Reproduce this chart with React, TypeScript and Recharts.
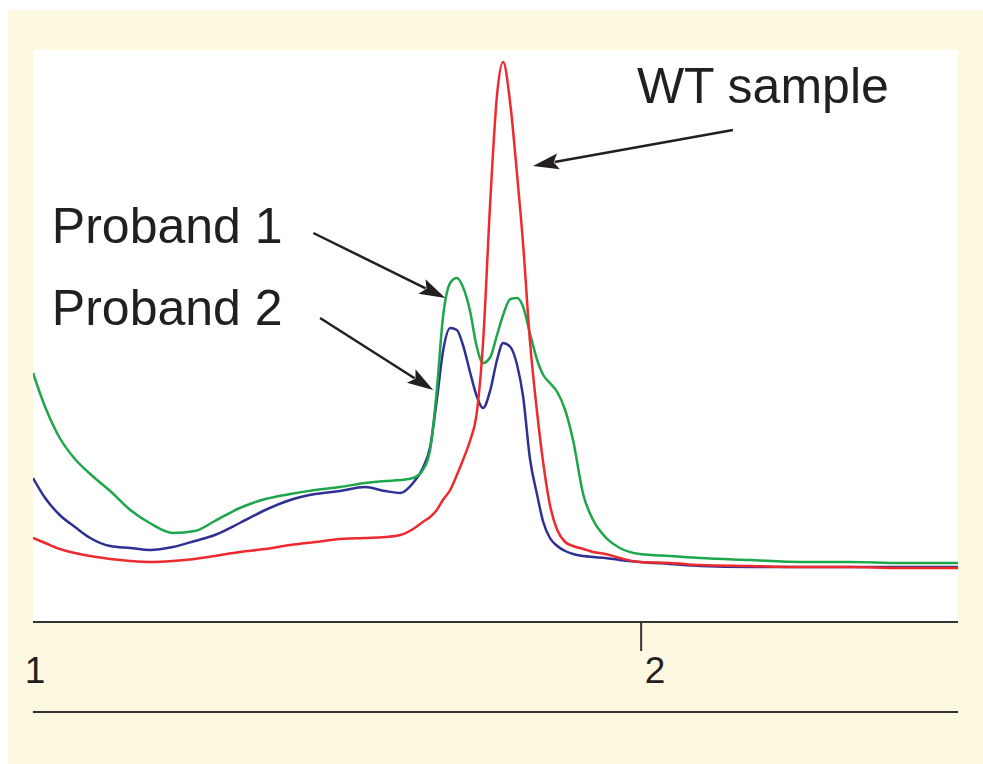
import React from 'react';
import { ComposedChart, Line, XAxis, YAxis, CartesianGrid, ReferenceLine, ReferenceDot } from 'recharts';

// Temperature-like axis position (arbitrary units, 1 .. 2.52)
const xValues = [
  1.0, 1.02, 1.044, 1.069, 1.094, 1.127, 1.16, 1.192, 1.23, 1.266,
  1.299, 1.34, 1.382, 1.423, 1.464, 1.505, 1.546, 1.579, 1.604, 1.625,
  1.641, 1.653, 1.664, 1.674, 1.686, 1.697, 1.707, 1.719, 1.729, 1.74,
  1.752, 1.763, 1.773, 1.785, 1.796, 1.806, 1.817, 1.829, 1.839, 1.85,
  1.862, 1.875, 1.888, 1.905, 1.921, 1.941, 1.965, 1.998, 2.048, 2.097,
  2.179, 2.262, 2.344, 2.426, 2.521,
];

// Signal intensity (arbitrary units)
const proband1 = [
  249, 215, 184, 163, 148, 131, 112, 99, 89, 91,
  101, 114, 123, 128, 132, 135, 139, 141, 142, 144,
  152, 172, 232, 304, 339, 344, 335, 310, 277, 259,
  265, 287, 307, 323, 324, 315, 289, 262, 247, 239,
  230, 212, 182, 127, 102, 85, 74, 68, 66, 64,
  62, 60, 60, 59, 59,
];

const proband2 = [
  144, 124, 107, 95, 84, 76, 74, 72, 75, 81,
  87, 99, 112, 122, 128, 131, 135, 131, 129, 139,
  154, 175, 222, 270, 294, 292, 277, 249, 227, 214,
  232, 262, 279, 275, 257, 225, 164, 127, 100, 84,
  76, 71, 68, 66, 65, 64, 62, 60, 58, 56,
  55, 55, 55, 55, 55,
];

const wtSample = [
  84, 79, 73, 69, 66, 63, 61, 60, 61, 63,
  66, 70, 73, 77, 80, 83, 84, 85, 87, 93,
  100, 105, 112, 122, 132, 147, 162, 182, 206, 279,
  422, 527, 560, 517, 447, 377, 282, 209, 159, 117,
  92, 80, 76, 73, 70, 68, 64, 60, 59, 57,
  56, 55, 55, 54, 54,
];

const xTicks = [1, 2];

const data = xValues.map((x, i) => ({
  x,
  p1: proband1[i],
  p2: proband2[i],
  wt: wtSample[i],
}));

const FONT = '"Liberation Sans", Arial, Helvetica, sans-serif';
const INK = '#231f20';

const AxisTick = (props: any) => {
  const { x, y, payload } = props;
  const v = payload.value;
  return (
    <g>
      {v === 2 && <line x1={x} y1={y} x2={x} y2={y + 29} stroke="#333" strokeWidth={2} />}
      <text x={x + (v === 1 ? 2 : 14)} y={y + 61} textAnchor="middle" fontSize={37} fontFamily={FONT} fill={INK}>
        {v}
      </text>
    </g>
  );
};

const Arrow = (props: any) => {
  const { x1, y1, x2, y2 } = props;
  const dx = x2 - x1;
  const dy = y2 - y1;
  const len = Math.sqrt(dx * dx + dy * dy);
  const ux = dx / len;
  const uy = dy / len;
  const hl = 26;
  const hw = 8;
  const bx = x2 - ux * hl;
  const by = y2 - uy * hl;
  const px = -uy;
  const py = ux;
  return (
    <g>
      <line x1={x1} y1={y1} x2={bx + ux * 4} y2={by + uy * 4} stroke={INK} strokeWidth={2.5} />
      <polygon
        points={`${x2},${y2} ${bx + px * hw},${by + py * hw} ${bx + ux * 5},${by + uy * 5} ${bx - px * hw},${by - py * hw}`}
        fill={INK}
      />
    </g>
  );
};

const makeLabel = (text: string) => (p: any) => (
  <text x={p.cx} y={p.cy} fontSize={50} fontFamily={FONT} fill={INK} textAnchor="start">
    {text}
  </text>
);

export default function App() {
  return (
    <div style={{ position: 'absolute', left: 0, top: 0, width: 983, height: 764, background: '#ffffff' }}>
      <div style={{ position: 'absolute', left: 8, top: 10, width: 975, height: 754, background: '#fdf9e1' }}>
        <ComposedChart
          width={975}
          height={754}
          data={data}
          margin={{ top: 40, right: 25, bottom: 0, left: 25 }}
        >
          <CartesianGrid horizontal={false} vertical={false} fill="#ffffff" stroke="none" />
          <XAxis
            dataKey="x"
            type="number"
            domain={[1, 2.521]}
            ticks={xTicks}
            allowDataOverflow
            height={90}
            axisLine={{ stroke: '#333', strokeWidth: 2 }}
            tickLine={false}
            tickSize={0}
            tickMargin={0}
            tick={<AxisTick />}
          />
          <XAxis
            xAxisId="base"
            type="number"
            domain={[1, 2.521]}
            allowDataOverflow
            height={52}
            axisLine={{ stroke: '#333', strokeWidth: 2 }}
            tickLine={false}
            tick={false}
          />
          <YAxis type="number" domain={[0, 572]} hide allowDataOverflow />
          <Line type="monotone" dataKey="p2" stroke="#2e3192" strokeWidth={2.5} dot={false} isAnimationActive={false} />
          <Line type="monotone" dataKey="p1" stroke="#1ea64b" strokeWidth={2.5} dot={false} isAnimationActive={false} />
          <Line type="monotone" dataKey="wt" stroke="#ee2a2f" strokeWidth={2.5} dot={false} isAnimationActive={false} />
          <ReferenceLine segment={[{ x: 1.461, y: 389 }, { x: 1.678, y: 324 }]} shape={<Arrow />} />
          <ReferenceLine segment={[{ x: 1.472, y: 304 }, { x: 1.658, y: 232 }]} shape={<Arrow />} />
          <ReferenceLine segment={[{ x: 2.151, y: 492 }, { x: 1.822, y: 456 }]} shape={<Arrow />} />
          <ReferenceDot x={1.993} y={519} r={0} shape={makeLabel('WT sample')} />
          <ReferenceDot x={1.031} y={379} r={0} shape={makeLabel('Proband 1')} />
          <ReferenceDot x={1.031} y={297} r={0} shape={makeLabel('Proband 2')} />
        </ComposedChart>
      </div>
    </div>
  );
}
